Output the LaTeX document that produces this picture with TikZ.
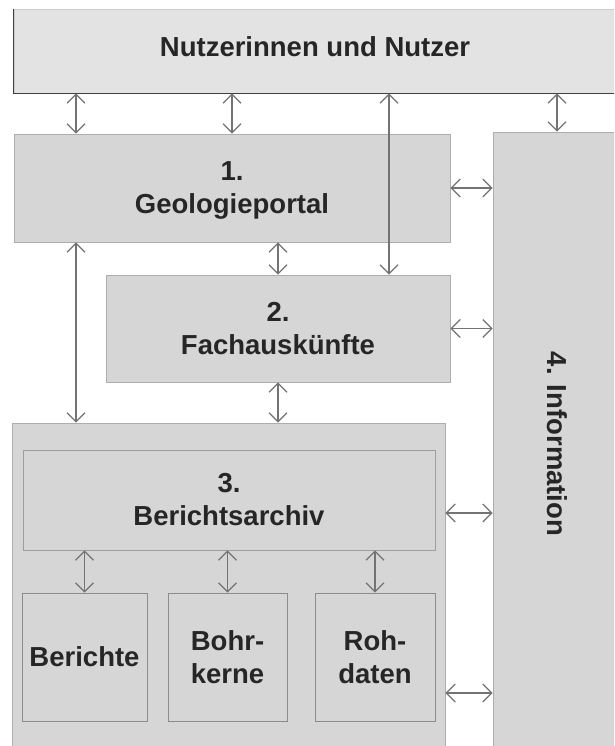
\documentclass[tikz,border=0pt]{standalone}
\usepackage{fontspec}
\setmainfont{Liberation Sans}
\usetikzlibrary{arrows.meta}
\tikzstyle{block} = [
    rectangle,
    fill=black!16,
    draw=black!32,
    line width=0.8pt,
    text=black!85,
    font=\bfseries\fontsize{27.5}{33}\selectfont,
    align=center,
    inner sep=0pt
]
\tikzstyle{subblock} = [block, draw=black!45]
\tikzstyle{vtext} = [
    rotate=-90,
    text=black!85,
    font=\bfseries\fontsize{27.5}{33}\selectfont
]
\tikzstyle{arrow} = [
    draw=black!55,
    line width=1.2pt,
    >={Straight Barb[length=9pt,width=18pt]},
    <->
]

\begin{document}
\begin{tikzpicture}[x=1pt, y=-1pt]

\clip (0,0) rectangle (614,746);
\fill [white] (0,0) rectangle (614,746);

\node (users) [block, fill=black!11, draw=black!20, minimum width=602pt,
    minimum height=84pt, text height=20pt, text depth=8pt] at (315,51)
{Nutzerinnen und Nutzer};
\draw [black!75, line width=1.6pt]
    (users.north west) -- (users.south west) -- (users.south east);

\node (portal) [block, minimum width=436pt, minimum height=108pt,
    text depth=0pt] at (232,188)
{1.\\Geologieportal};

\node (auskunft) [block, minimum width=344pt, minimum height=107pt] at (278,328.5)
{2.\\Fachauskünfte};

\node (archiv) [block, minimum width=433pt, minimum height=337pt] at (228.5,591.5) {};

\node (berarchiv) [block, draw=black!38, minimum width=412pt, minimum height=100pt] at (229,500)
{3.\\Berichtsarchiv};

\node (berichte) [subblock, minimum width=125pt, minimum height=128pt] at (84.5,657)
{Berichte};
\node (bohrkerne) [subblock, minimum width=119pt, minimum height=128pt] at (227.5,657)
{Bohr-\\kerne};
\node (rohdaten) [subblock, minimum width=120pt, minimum height=128pt] at (375,657)
{Roh-\\daten};

\node (info) [block, minimum width=128pt, minimum height=624pt,
    label={[vtext]center:4. Information}] at (557,444) {};

\draw [arrow] (users.south -| 76,0) -- (portal.north -| 76,0);
\draw [arrow] (users.south -| 232,0) -- (portal.north -| 232,0);
\draw [arrow] (users.south -| 389,0) -- (auskunft.north -| 389,0);
\draw [arrow] (users.south -| info) -- (info.north);

\draw [arrow] (portal.east) -- (portal.east -| info.west);
\draw [arrow] (auskunft.east) -- (auskunft.east -| info.west);
\draw [arrow] (portal.south -| auskunft) -- (auskunft.north);
\draw [arrow] (portal.south -| 76,0) -- (archiv.north -| 76,0);
\draw [arrow] (auskunft.south) -- (archiv.north -| auskunft);

\draw [arrow] (archiv.east |- 0,513) -- (info.west |- 0,513);
\draw [arrow] (archiv.east |- 0,693) -- (info.west |- 0,693);

\draw [arrow] (berarchiv.south -| berichte) -- (berichte.north);
\draw [arrow] (berarchiv.south -| bohrkerne) -- (bohrkerne.north);
\draw [arrow] (berarchiv.south -| rohdaten) -- (rohdaten.north);

\end{tikzpicture}
\end{document}
